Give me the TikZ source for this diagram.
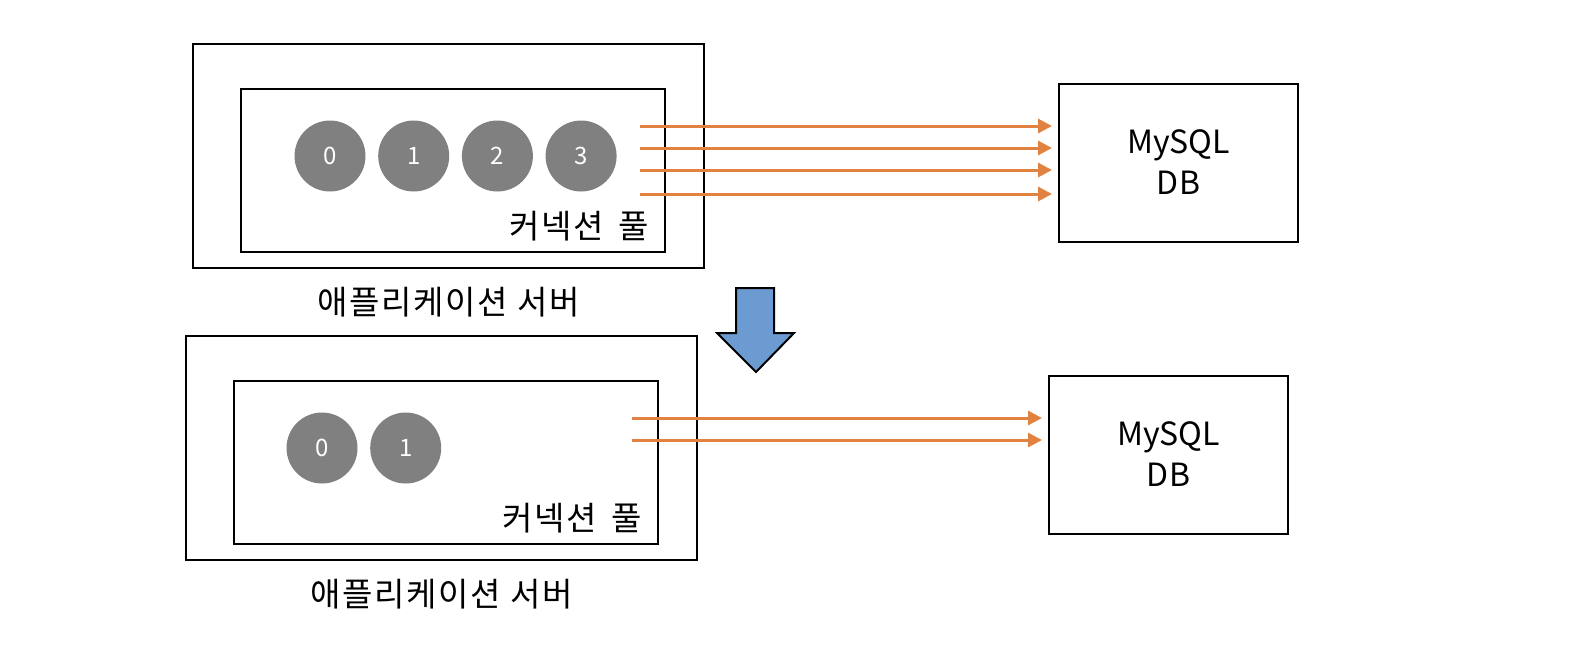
\documentclass[tikz,border=0pt]{standalone}
\usepackage{fontspec}
\setmainfont{Noto Sans CJK KR}
\newfontfamily\krwide[LetterSpace=5]{Noto Sans CJK KR}
\usepackage{xcolor}
\usepackage{tikz}
\usetikzlibrary{arrows.meta}
\usetikzlibrary{positioning}

\definecolor{connGray}{RGB}{128,128,128}
\definecolor{linkOrange}{RGB}{226,130,64}
\definecolor{downBlue}{RGB}{108,155,210}

\begin{document}
\begin{tikzpicture}[x=0.5pt,y=-0.5pt,
  box/.style={draw,line width=1pt,inner sep=0pt},
  server/.style={box,minimum width=255.5pt,minimum height=112pt},
  pool/.style={box,minimum width=212pt,minimum height=81.5pt},
  db/.style={box,minimum width=119.5pt,minimum height=79pt,align=center,
    font=\fontsize{16}{20.5}\selectfont},
  conn/.style={circle,fill=connGray,text=white,minimum size=35.5pt,inner sep=0pt,
    font=\fontsize{12}{14}\selectfont},
  caption/.style={inner sep=0pt,font=\krwide\fontsize{16.5}{19}\selectfont},
  link/.style={draw=linkOrange,line width=1.5pt,-{Triangle[length=7pt,width=7pt]},shorten >=3pt}]
\useasboundingbox (0,0) rectangle (1572,660);

% before: four connections
\node[server] (server1) at (448.5,156) {};
\node[pool] (pool1) at (453,170.5) {};
\foreach \i in {0,...,3}
  \node[conn] (conn1\i) at ({330+83.7*\i},156) {\i};
\node[caption] (poollbl1) at (579,226) {커넥션\hspace{7pt}풀};
\node[caption] (srvlbl1) at (448.5,302) {애플리케이션 서버};
\node[db] (db1) at (1178.5,162.5) {MySQL\\DB};
\foreach \y [count=\k] in {126,148,170,194}{
  \coordinate (src1\k) at (640,\y);
  \draw[link] (src1\k) -- (src1\k -| db1.west);
}

% arrow down
\draw[fill=downBlue,line width=1pt,line join=miter]
  (736,288) -- (774,288) -- (774,333) -- (794,333) -- (756,372)
  -- (717,333) -- (736,333) -- cycle;

% after: two connections
\node[server] (server2) at (441.5,448) {};
\node[pool] (pool2) at (446,462.5) {};
\foreach \i in {0,1}
  \node[conn] (conn2\i) at ({322+83.7*\i},448) {\i};
\node[caption] (poollbl2) at (572,518) {커넥션\hspace{7pt}풀};
\node[caption] (srvlbl2) at (441.5,594) {애플리케이션 서버};
\node[db] (db2) at (1168.5,454.5) {MySQL\\DB};
\foreach \y [count=\k] in {418,440}{
  \coordinate (src2\k) at (632,\y);
  \draw[link] (src2\k) -- (src2\k -| db2.west);
}
\end{tikzpicture}
\end{document}
